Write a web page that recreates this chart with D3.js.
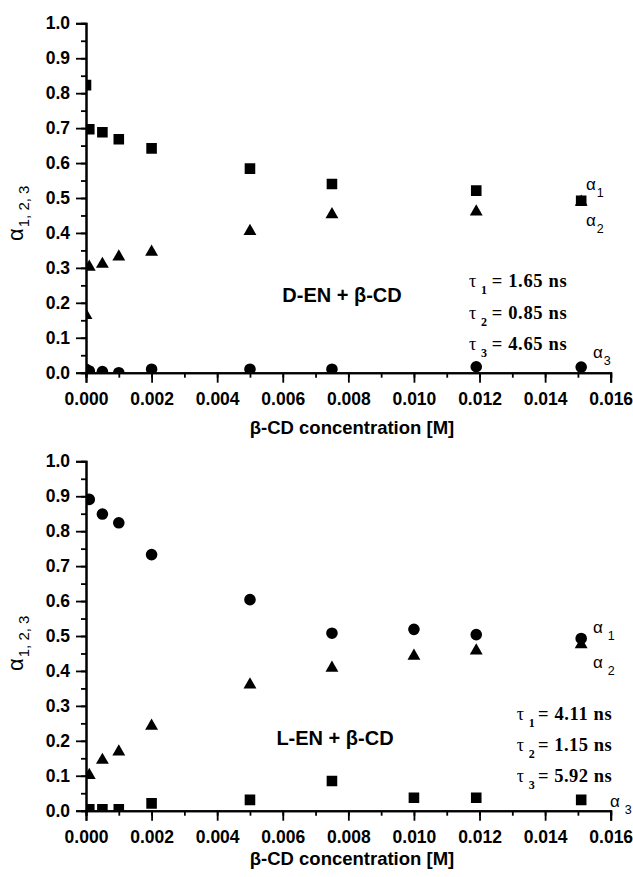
<!DOCTYPE html>
<html>
<head>
<meta charset="utf-8">
<script src="https://cdn.jsdelivr.net/npm/d3@7"></script>
<style>
  html, body { margin: 0; padding: 0; background: #fff; }
  svg { display: block; }
  .tick-label { font-family: "Liberation Sans", Arial, sans-serif; font-weight: bold; font-size: 17.5px; fill: #000; }
  .axis-title { font-family: "Liberation Sans", Arial, sans-serif; font-weight: bold; font-size: 18.5px; fill: #000; }
  .panel-title { font-family: "Liberation Sans", Arial, sans-serif; font-weight: bold; font-size: 20px; fill: #000; }
  .alpha { font-family: "Liberation Sans", Arial, sans-serif; fill: #000; }
  .tau { font-family: "Liberation Serif", "Times New Roman", serif; fill: #000; }
</style>
</head>
<body>
<svg id="chart" width="633" height="877"></svg>
<script>
// β-CD concentration [M] for each panel
const concD = [0, 0.0001, 0.0005, 0.001, 0.002, 0.005, 0.0075, 0.0119, 0.0151];
const concL = [0.0001, 0.0005, 0.001, 0.002, 0.005, 0.0075, 0.010, 0.0119, 0.0151];

// D-EN + β-CD amplitudes
const dAlpha1 = [0.823, 0.697, 0.688, 0.668, 0.642, 0.584, 0.540, 0.521, 0.492];
const dAlpha2 = [0.170, 0.308, 0.316, 0.337, 0.351, 0.410, 0.458, 0.466, 0.494];
const dAlpha3 = [0.010, 0.005, 0.003, 0.000, 0.010, 0.010, 0.010, 0.017, 0.016];

// L-EN + β-CD amplitudes
const lAlpha1 = [0.891, 0.849, 0.824, 0.733, 0.604, 0.508, 0.519, 0.504, 0.493];
const lAlpha2 = [0.107, 0.150, 0.174, 0.248, 0.366, 0.414, 0.448, 0.463, 0.481];
const lAlpha3 = [0.004, 0.004, 0.004, 0.021, 0.031, 0.085, 0.037, 0.037, 0.031];

// Lifetimes (ns)
const tauD = ["1.65", "0.85", "4.65"];
const tauL = ["4.11", "1.15", "5.92"];

// Axis ticks
const xMajor = [0, 0.002, 0.004, 0.006, 0.008, 0.010, 0.012, 0.014, 0.016];
const yMajor = [0, 0.1, 0.2, 0.3, 0.4, 0.5, 0.6, 0.7, 0.8, 0.9, 1.0];

const svg = d3.select("#chart");
const left = 86, right = 610.7;

const x = d3.scaleLinear().domain([0, 0.016]).range([left, right]);

// marker shapes; triangle is shifted so its bounding box is centred on the point
const triSize = 72;
const triShift = Math.sqrt(triSize * 4 / Math.sqrt(3)) * Math.sqrt(3) / 2 / 6;
const markers = {
  square: { path: d3.symbol().type(d3.symbolSquare).size(112)(), dy: 0 },
  circle: { path: d3.symbol().type(d3.symbolCircle).size(106)(), dy: 0 },
  triangle: { path: d3.symbol().type(d3.symbolTriangle).size(triSize)(), dy: triShift }
};

function panel(cfg) {
  const y = d3.scaleLinear().domain([0, 1.0]).range([cfg.bottom, cfg.top]);
  const g = svg.append("g");

  const clipId = "clip-" + cfg.id;
  svg.append("clipPath").attr("id", clipId)
    .append("rect")
    .attr("x", x(0)).attr("y", y(1.0) - 20)
    .attr("width", x(0.016) - x(0) + 30)
    .attr("height", y(0) - y(1.0) + 20);

  // markers
  const marks = g.append("g").attr("clip-path", `url(#${clipId})`);
  cfg.series.forEach(s => {
    const m = markers[s.shape];
    marks.selectAll(null).data(s.values.map((v, i) => [cfg.conc[i], v]))
      .join("path")
      .attr("d", m.path)
      .attr("transform", d => `translate(${x(d[0])},${y(d[1]) + m.dy})`)
      .attr("fill", "#000");
  });

  // x axis
  const xAxis = d3.axisBottom(x).tickValues(xMajor).tickSize(10)
    .tickFormat(d3.format(".3f")).tickPadding(6);
  const xg = g.append("g").attr("transform", `translate(0,${y(0)})`).call(xAxis);
  const xMinor = d3.axisBottom(x).tickValues(d3.range(0, 17).map(i => i * 0.001))
    .tickSize(5).tickFormat("");
  const xmg = g.append("g").attr("transform", `translate(0,${y(0)})`).call(xMinor);

  // y axis
  const yAxis = d3.axisLeft(y).tickValues(yMajor).tickSize(10)
    .tickFormat(d3.format(".1f")).tickPadding(6);
  const yg = g.append("g").attr("transform", `translate(${x(0)},0)`).call(yAxis);
  const yMinor = d3.axisLeft(y).tickValues(d3.range(0, 21).map(i => i * 0.05))
    .tickSize(5).tickFormat("");
  const ymg = g.append("g").attr("transform", `translate(${x(0)},0)`).call(yMinor);

  [xg, xmg, yg, ymg].forEach(a => {
    a.select(".domain").attr("stroke", "#000").attr("stroke-width", 2);
    a.selectAll(".tick line").attr("stroke", "#000").attr("stroke-width", 1.8);
  });
  xg.selectAll(".tick text").attr("class", "tick-label").attr("dy", "1.1em")
    .attr("y", 13);
  yg.selectAll(".tick text").attr("class", "tick-label");

  // x axis title
  g.append("text").attr("class", "axis-title")
    .attr("x", 352).attr("y", cfg.xTitleY).attr("text-anchor", "middle")
    .text("β-CD concentration [M]");

  // y axis title α1, 2, 3
  const yt = g.append("text").attr("class", "alpha")
    .attr("transform", `translate(23,${cfg.yTitleY}) rotate(-90)`);
  yt.append("tspan").attr("font-size", 22).text("α");
  yt.append("tspan").attr("font-size", 15).attr("dy", 6).attr("dx", 1).text("1, 2, 3");

  // panel title
  g.append("text").attr("class", "panel-title")
    .attr("x", cfg.title.x).attr("y", cfg.title.y).attr("text-anchor", "middle")
    .text(cfg.title.text);

  // series labels on the right
  cfg.alphaLabels.forEach(a => {
    const t = g.append("text").attr("class", "alpha").attr("x", a.x).attr("y", a.y);
    t.append("tspan").attr("font-size", 17).text("α");
    t.append("tspan").attr("font-size", 12.5).attr("dx", a.dx).attr("dy", 7).text(a.sub);
  });

  // lifetime block
  cfg.taus.forEach((v, i) => {
    const by = cfg.tauBlock.y + i * cfg.tauBlock.step;
    g.append("text").attr("class", "tau").attr("font-size", 18)
      .attr("x", cfg.tauBlock.x).attr("y", by).text("τ");
    g.append("text").attr("class", "tau").attr("font-size", 12).attr("font-weight", "bold")
      .attr("x", cfg.tauBlock.x + cfg.tauBlock.subDx).attr("y", by + 7).text(String(i + 1));
    g.append("text").attr("class", "tau").attr("font-size", 18.5).attr("font-weight", "bold")
      .attr("x", cfg.tauBlock.x + cfg.tauBlock.eqDx).attr("y", by)
      .attr("textLength", cfg.tauBlock.len).attr("lengthAdjust", "spacing")
      .text(`= ${v} ns`);
  });
}

panel({
  id: "d", top: 23.3, bottom: 372.7, conc: concD,
  series: [
    { values: dAlpha1, shape: "square" },
    { values: dAlpha2, shape: "triangle" },
    { values: dAlpha3, shape: "circle" }
  ],
  xTitleY: 434, yTitleY: 241,
  title: { text: "D-EN + β-CD", x: 342, y: 302 },
  alphaLabels: [
    { x: 586, y: 190, sub: "1", dx: 1 },
    { x: 586, y: 226, sub: "2", dx: 1 },
    { x: 593, y: 358, sub: "3", dx: 1 }
  ],
  taus: tauD,
  tauBlock: { x: 469, y: 287, step: 31.7, subDx: 12, eqDx: 22.7, len: 75 }
});

panel({
  id: "l", top: 461.3, bottom: 810.7, conc: concL,
  series: [
    { values: lAlpha1, shape: "circle" },
    { values: lAlpha2, shape: "triangle" },
    { values: lAlpha3, shape: "square" }
  ],
  xTitleY: 865, yTitleY: 671,
  title: { text: "L-EN + β-CD", x: 335, y: 745 },
  alphaLabels: [
    { x: 593, y: 633, sub: "1", dx: 5 },
    { x: 593, y: 668, sub: "2", dx: 5 },
    { x: 610, y: 807, sub: "3", dx: 5 }
  ],
  taus: tauL,
  tauBlock: { x: 516.7, y: 719.5, step: 31.2, subDx: 12, eqDx: 21.3, len: 73.7 }
});
</script>
</body>
</html>
